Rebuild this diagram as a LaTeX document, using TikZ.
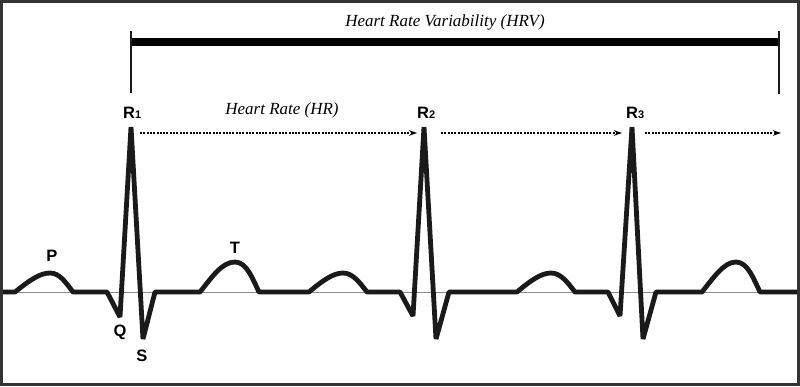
\documentclass[tikz,border=0pt]{standalone}
\usepackage{fontspec}
\setmainfont{Liberation Serif}
\newfontfamily\lblfont{Liberation Sans}
\usetikzlibrary{arrows.meta}
\definecolor{framegray}{HTML}{333333}
\definecolor{basegray}{HTML}{8C8C8C}
\definecolor{ink}{HTML}{1A1A1A}
\tikzset{
  ecgline/.style={line width=4.8pt, ink, line join=bevel, line cap=butt},
  hrvbar/.style={line width=8pt, black},
  hrvtick/.style={line width=2pt, ink},
  hrarrow/.style={line width=1.2pt, black, dash pattern=on 2pt off 1.3pt,
     -{Stealth[length=8pt,width=5.5pt]}},
  wavelbl/.style={font=\lblfont\bfseries\fontsize{16.5}{17}\selectfont, inner sep=0pt, anchor=base},
  rlbl/.style={font=\lblfont\bfseries\fontsize{16.5}{17}\selectfont, inner sep=0pt, anchor=base west},
  ittext/.style={font=\itshape\fontsize{17}{18}\selectfont, inner sep=0pt}
}
\newcommand{\rsub}[1]{{\fontsize{11}{11}\selectfont #1}}
\begin{document}
\begin{tikzpicture}[x=1pt,y=-1pt]
\useasboundingbox (0,0) rectangle (800,386);
\fill[white] (0,0) rectangle (800,386);
% frame
\draw[framegray, line width=3pt] (1.5,1.5) rectangle (798.5,384.5);
% baseline
\draw[basegray, line width=1pt] (3,292) -- (797,292);
% ECG trace
\coordinate (R1) at (131,127);
\coordinate (R2) at (424,127);
\coordinate (R3) at (632,127);
\draw[ecgline] (3,292) -- (15,292)
  .. controls (30,280) and (40,273) .. (50,273)
  .. controls (60,273) and (66,283) .. (73,292)
  -- (107,292) -- (120,317) -- (R1) -- (143,339) -- (155,292) -- (200,292)
  .. controls (212,277) and (222,262) .. (235,262)
  .. controls (247,262) and (253,280) .. (259,292)
  -- (309,292)
  .. controls (322,281) and (333,273) .. (343,273)
  .. controls (353,273) and (360,283) .. (367,292)
  -- (400,292) -- (413,316) -- (R2) -- (436,339) -- (449,292) -- (517,292)
  .. controls (530,281) and (541,273) .. (551,273)
  .. controls (561,273) and (568,283) .. (575,292)
  -- (608,292) -- (620,316) -- (R3) -- (643,339) -- (656,292) -- (702,292)
  .. controls (714,277) and (724,262) .. (736,262)
  .. controls (748,262) and (754,280) .. (760,292)
  -- (797,292);
% HRV bar
\coordinate (hrvL) at (131,42);
\coordinate (hrvR) at (779,42);
\coordinate (tickLtop) at (131,31);
\coordinate (tickLbot) at (131,93);
\coordinate (tickRtop) at (779,31);
\coordinate (tickRbot) at (779,94);
\draw[hrvbar] (hrvL) -- (hrvR);
\draw[hrvtick] (tickLtop) -- (tickLbot);
\draw[hrvtick] (tickRtop) -- (tickRbot);
\node[ittext] (hrvtxt) at (445,22) {Heart Rate Variability (HRV)};
% HR arrows
\coordinate (a1s) at (140,133);
\coordinate (a1e) at (417,133);
\coordinate (a2s) at (441,133);
\coordinate (a2e) at (622,133);
\coordinate (a3s) at (645,133);
\coordinate (a3e) at (781,133);
\draw[hrarrow] (a1s) -- (a1e);
\draw[hrarrow] (a2s) -- (a2e);
\draw[hrarrow] (a3s) -- (a3e);
\node[ittext] (hrtxt) at (282,110) {Heart Rate (HR)};
% labels
\node[rlbl] (lR1) at (123,118) {R\rsub{1}};
\node[rlbl] (lR2) at (417,118) {R\rsub{2}};
\node[rlbl] (lR3) at (626,118) {R\rsub{3}};
\node[wavelbl] (lP) at (52,261) {P};
\node[wavelbl] (lT) at (235,253) {T};
\node[wavelbl] (lQ) at (120,336) {Q};
\node[wavelbl] (lS) at (142,361) {S};
\end{tikzpicture}
\end{document}
